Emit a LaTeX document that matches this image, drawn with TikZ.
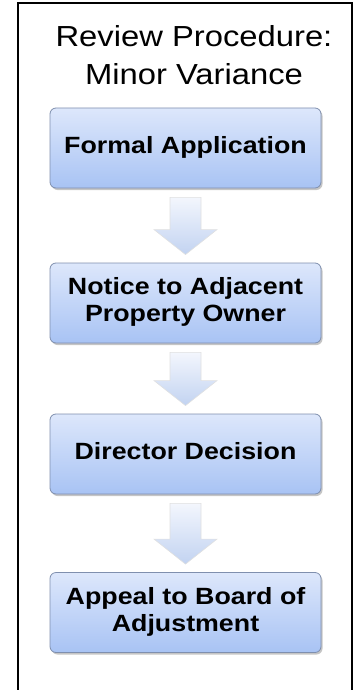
\documentclass[tikz,border=0pt]{standalone}
\usepackage{fontspec}
\setmainfont{Liberation Sans}
\usetikzlibrary{calc,shadows}
\definecolor{boxtop}{HTML}{DDE7FB}
\definecolor{boxbot}{HTML}{A8C3F4}
\definecolor{boxline}{HTML}{7F8FAE}
\definecolor{arrtop}{HTML}{F3F6FD}
\definecolor{arrbot}{HTML}{C2D3F1}
\newcommand{\stretchtext}[2]{\scalebox{#1}[1]{\begin{tabular}[t]{@{}c@{}}#2\end{tabular}}}
\newcommand{\flowarrow}[2]{%
  \path[blockarrow] let \p1=($(#1.south)+(0,9)$), \p2=($(#2.north)+(0,-8)$) in
  (\x1-15.5pt,\y1) -- (\x1+15.5pt,\y1) -- (\x1+15.5pt,\y2+25pt) -- (\x1+31.5pt,\y2+25pt)
  -- (\x1,\y2) -- (\x1-31.5pt,\y2+25pt) -- (\x1-15.5pt,\y2+25pt) -- cycle;}
\tikzset{
  stepbox/.style={draw=boxline, line width=0.8pt, rounded corners=6pt,
    top color=boxtop, bottom color=boxbot, minimum width=271pt, minimum height=80pt,
    inner sep=0pt, font=\fontsize{23.5}{27}\selectfont\bfseries,
    drop shadow={shadow xshift=1.5pt, shadow yshift=-2pt, fill=black!45, opacity=0.5}},
  blockarrow/.style={draw=black!12, line width=0.6pt, top color=arrtop, bottom color=arrbot},
  frame/.style={draw=black, line width=2pt},
  titletext/.style={font=\fontsize{29}{38}\selectfont, inner sep=0pt, anchor=base}
}
\begin{document}
\begin{tikzpicture}[x=1pt,y=-1pt]
\useasboundingbox (0,0) rectangle (359,690);
\draw[frame] (18,3) rectangle (352,700);
\node[titletext] (title) at (194,47) {\stretchtext{1.13}{Review Procedure:\\Minor Variance}};
\node[stepbox] (b1) at (185.5,148) {\stretchtext{1.14}{Formal Application}};
\node[stepbox] (b2) at (185.5,303) {\stretchtext{1.14}{Notice to Adjacent\\Property Owner}};
\node[stepbox] (b3) at (185.5,454) {\stretchtext{1.14}{Director Decision}};
\node[stepbox] (b4) at (185.5,612.5) {\stretchtext{1.14}{Appeal to Board of\\Adjustment}};
\flowarrow{b1}{b2}
\flowarrow{b2}{b3}
\flowarrow{b3}{b4}
\end{tikzpicture}
\end{document}
